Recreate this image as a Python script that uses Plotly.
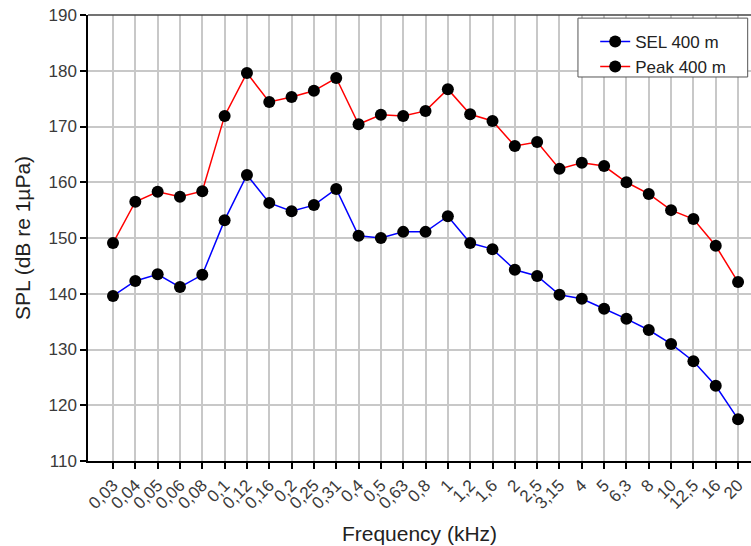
import plotly.graph_objects as go

freq_labels = ["0,03", "0,04", "0,05", "0,06", "0,08", "0,1", "0,12", "0,16", "0,2", "0,25",
               "0,31", "0,4", "0,5", "0,63", "0,8", "1", "1,2", "1,6", "2", "2,5",
               "3,15", "4", "5", "6,3", "8", "10", "12,5", "16", "20"]

sel_400 = [139.6, 142.3, 143.5, 141.2, 143.4, 153.2, 161.3, 156.3, 154.8, 155.9,
           158.8, 150.4, 150.0, 151.1, 151.1, 153.9, 149.1, 148.0, 144.3, 143.2,
           139.8, 139.1, 137.3, 135.5, 133.5, 131.0, 127.9, 123.5, 117.5]

peak_400 = [149.1, 156.5, 158.3, 157.4, 158.4, 171.9, 179.6, 174.4, 175.3, 176.4,
            178.7, 170.4, 172.1, 171.9, 172.8, 176.7, 172.2, 171.0, 166.5, 167.2,
            162.4, 163.5, 162.9, 160.0, 157.9, 155.0, 153.4, 148.6, 142.1]

x_idx = list(range(len(freq_labels)))

fig = go.Figure()
fig.add_trace(go.Scatter(
    x=x_idx, y=sel_400, mode="lines+markers", name="SEL 400 m",
    line=dict(color="#0000ff", width=1.5),
    marker=dict(color="black", size=12),
))
fig.add_trace(go.Scatter(
    x=x_idx, y=peak_400, mode="lines+markers", name="Peak 400 m",
    line=dict(color="#ff0000", width=1.5),
    marker=dict(color="black", size=12),
))

font_family = "Liberation Sans, Arial, sans-serif"

fig.update_layout(
    width=751, height=546,
    margin=dict(l=88, r=0, t=15, b=85, autoexpand=False),
    paper_bgcolor="white", plot_bgcolor="white",
    font=dict(family=font_family, size=17, color="#333333"),
    showlegend=True,
    legend=dict(
        x=0.765, y=0.980, xanchor="left", yanchor="top",
        bgcolor="rgba(0,0,0,0)", borderwidth=0,
        font=dict(family=font_family, size=17, color="#222222"),
        tracegroupgap=0,
    ),
    xaxis=dict(
        range=[-1.12, 28.58], automargin=False,
        tickmode="array", tickvals=x_idx, ticktext=freq_labels,
        tickangle=-45, ticklabeloverflow="allow",
        ticks="outside", ticklen=6, tickwidth=1.5, tickcolor="black",
        showline=True, linecolor="black", linewidth=1.5,
        showgrid=True, gridcolor="#c8c8c8", gridwidth=1.5,
        zeroline=False,
        tickfont=dict(size=17, color="#3a3a3a"),
        title=dict(text="Frequency (kHz)", font=dict(size=21, color="#222222"), standoff=14),
    ),
    yaxis=dict(
        range=[110, 190], dtick=10, automargin=False, ticklabeloverflow="allow",
        ticks="outside", ticklen=6, tickwidth=1.5, tickcolor="black",
        showline=True, linecolor="black", linewidth=1.5,
        showgrid=True, gridcolor="#c8c8c8", gridwidth=1.5,
        zeroline=False,
        tickfont=dict(size=17, color="#3a3a3a"),
        title=dict(text="SPL (dB re 1µPa)", font=dict(size=21, color="#222222"), standoff=12),
    ),
)

# top frame line
fig.add_shape(type="line", xref="paper", yref="paper", x0=0, x1=1, y0=1, y1=1,
              line=dict(color="#444444", width=1.5))
# legend box
fig.add_shape(type="rect", xref="paper", yref="paper", x0=0.739, x1=0.995, y0=0.861, y1=0.993,
              line=dict(color="#555555", width=1), fillcolor="white", layer="above")

fig.write_html("out.html", config={"displayModeBar": False},
               post_script="document.body.style.margin='0';")
